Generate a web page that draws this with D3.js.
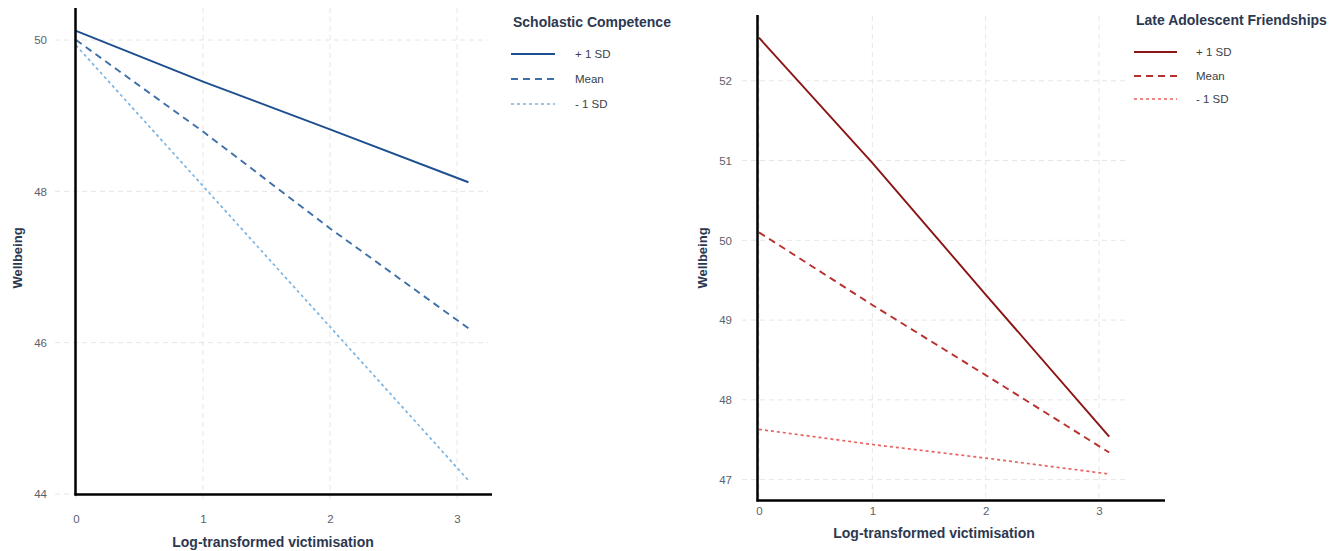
<!DOCTYPE html>
<html>
<head>
<meta charset="utf-8">
<title>Wellbeing by victimisation</title>
<script src="https://cdn.jsdelivr.net/npm/d3@7"></script>
<style>
  body { margin: 0; background: #fff; }
  svg { font-family: "Liberation Sans", Arial, sans-serif; }
  .tick text { fill: #5a5f6b; font-size: 11.5px; }
  .ax-title { fill: #2c3850; font-weight: bold; }
  .leg-title { fill: #2c3850; font-weight: bold; font-size: 14px; }
  .leg-label { fill: #3a3f4a; font-size: 11.5px; }
</style>
</head>
<body>
<div id="chart"></div>
<script>
// data
var victimisation = [0, 1, 2, 3.09];
var groups = ["+ 1 SD", "Mean", "- 1 SD"];

// left: Scholastic Competence
var scHigh = [50.12, 49.45, 48.82, 48.12];
var scMean = [50.00, 48.79, 47.51, 46.19];
var scLow  = [49.93, 48.07, 46.21, 44.18];
var scTicksY = [44, 46, 48, 50];

// right: Late Adolescent Friendships
var lfHigh = [52.54, 50.97, 49.32, 47.54];
var lfMean = [50.10, 49.19, 48.31, 47.34];
var lfLow  = [47.63, 47.44, 47.27, 47.07];
var lfTicksY = [47, 48, 49, 50, 51, 52];

var ticksX = [0, 1, 2, 3];

var svg = d3.select("#chart").append("svg")
  .attr("width", 1338)
  .attr("height", 551);

var dashes = ["none", "7 5", "3 3"];
var widths = [1.9, 1.9, 1.7];

function panel(opt) {
  var x = d3.scaleLinear().domain([0, 3]).range(opt.xRange);
  var y = d3.scaleLinear().domain(opt.yDomain).range(opt.yRange);
  var g = svg.append("g");

  // grid
  g.selectAll(".hgrid").data(opt.ticksY).enter().append("line")
    .attr("x1", opt.gridX[0]).attr("x2", opt.gridX[1])
    .attr("y1", function(d) { return y(d); })
    .attr("y2", function(d) { return y(d); })
    .attr("stroke", "#e6e6e6").attr("stroke-dasharray", "5 4");
  g.selectAll(".vgrid").data(ticksX).enter().append("line")
    .attr("y1", opt.gridY[0]).attr("y2", opt.gridY[1])
    .attr("x1", function(d) { return x(d); })
    .attr("x2", function(d) { return x(d); })
    .attr("stroke", "#e6e6e6").attr("stroke-dasharray", "5 4");

  // axes (labels only)
  var ya = g.append("g")
    .attr("transform", "translate(" + opt.yLabelX + ",0)")
    .call(d3.axisLeft(y).tickValues(opt.ticksY).tickFormat(d3.format("d"))
      .tickSize(0).tickPadding(0));
  ya.select(".domain").remove();
  var xa = g.append("g")
    .attr("transform", "translate(0," + opt.xLabelY + ")")
    .call(d3.axisBottom(x).tickValues(ticksX).tickFormat(d3.format("d"))
      .tickSize(0).tickPadding(0));
  xa.select(".domain").remove();

  // series
  var line = d3.line()
    .x(function(d) { return x(d[0]); })
    .y(function(d) { return y(d[1]); });
  opt.series.forEach(function(s, i) {
    g.append("path")
      .datum(victimisation.map(function(v, j) { return [v, s[j]]; }))
      .attr("d", line)
      .attr("fill", "none")
      .attr("stroke", opt.colors[i])
      .attr("stroke-width", widths[i])
      .attr("stroke-dasharray", dashes[i]);
  });

  // black axis lines
  g.append("line")
    .attr("x1", opt.axisX).attr("x2", opt.axisX)
    .attr("y1", opt.axisTop).attr("y2", opt.axisY + 1)
    .attr("stroke", "#000").attr("stroke-width", 2.5);
  g.append("line")
    .attr("x1", opt.axisX - 1).attr("x2", opt.axisRight)
    .attr("y1", opt.axisY).attr("y2", opt.axisY)
    .attr("stroke", "#000").attr("stroke-width", 2.5);

  // titles
  g.append("text").attr("class", "ax-title")
    .attr("x", opt.xTitle[0]).attr("y", opt.xTitle[1])
    .attr("text-anchor", "middle").attr("font-size", "14px")
    .text("Log-transformed victimisation");
  g.append("text").attr("class", "ax-title")
    .attr("transform", "translate(" + opt.yTitle[0] + "," + opt.yTitle[1] + ") rotate(-90)")
    .attr("text-anchor", "middle").attr("font-size", "13px")
    .text("Wellbeing");

  // legend
  var lg = g.append("g");
  lg.append("text").attr("class", "leg-title")
    .attr("x", opt.legX[0]).attr("y", opt.legY[0] - 27)
    .text(opt.legendTitle);
  groups.forEach(function(name, i) {
    lg.append("line")
      .attr("x1", opt.legX[0] - 2).attr("x2", opt.legX[1])
      .attr("y1", opt.legY[i]).attr("y2", opt.legY[i])
      .attr("stroke", opt.colors[i])
      .attr("stroke-width", widths[i])
      .attr("stroke-dasharray", dashes[i]);
    lg.append("text").attr("class", "leg-label")
      .attr("x", opt.legX[2]).attr("y", opt.legY[i] + 4)
      .text(name);
  });
}

panel({
  xRange: [76, 457], yDomain: [44, 50], yRange: [494, 40],
  ticksY: scTicksY, gridX: [55, 488], gridY: [8, 503],
  yLabelX: 47, xLabelY: 515,
  axisX: 75.5, axisTop: 8, axisY: 494.5, axisRight: 492,
  xTitle: [273, 547], yTitle: [22, 258],
  series: [scHigh, scMean, scLow],
  colors: ["#1d4f8f", "#3d6fa8", "#7ab4e2"],
  legendTitle: "Scholastic Competence",
  legX: [513, 555, 575], legY: [54, 79, 104]
});

panel({
  xRange: [759, 1099], yDomain: [47, 52], yRange: [479.6, 80.8],
  ticksY: lfTicksY, gridX: [742, 1127], gridY: [16, 500],
  yLabelX: 732, xLabelY: 507,
  axisX: 757.5, axisTop: 15, axisY: 500.5, axisRight: 1165,
  xTitle: [934, 538], yTitle: [707, 258],
  series: [lfHigh, lfMean, lfLow],
  colors: ["#8b1414", "#b8302e", "#e8625f"],
  legendTitle: "Late Adolescent Friendships",
  legX: [1136, 1177, 1196], legY: [52, 76, 99]
});
</script>
</body>
</html>
